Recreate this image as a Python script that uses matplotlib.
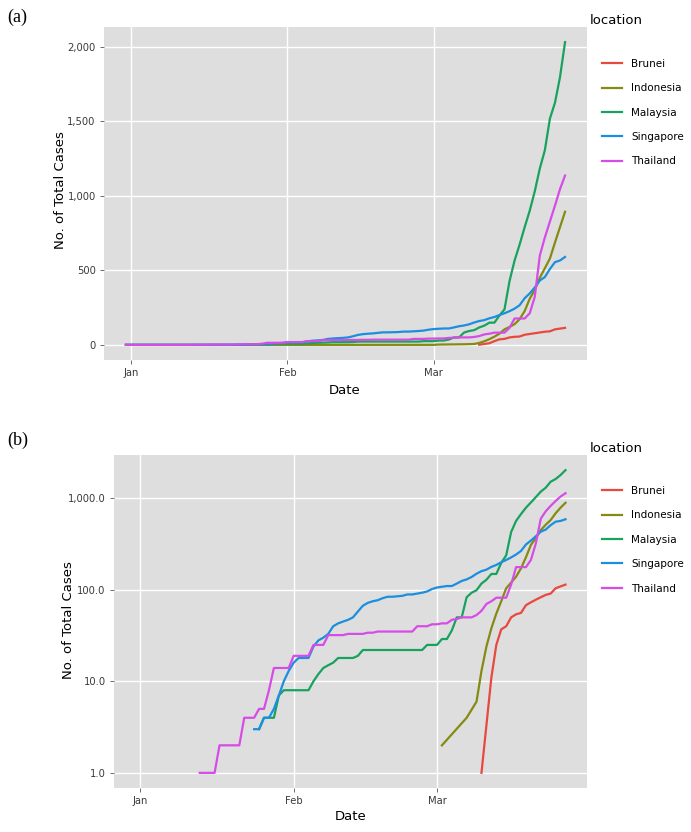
import matplotlib
matplotlib.use("Agg")
import matplotlib.pyplot as plt
import matplotlib.dates as mdates
from matplotlib.lines import Line2D
from matplotlib.ticker import FixedLocator, FuncFormatter, NullLocator
import numpy as np
import pandas as pd

# ---- data (daily cumulative cases) ----
first_day = "2019-12-31"
last_day = "2020-03-27"

countries = ["Brunei", "Indonesia", "Malaysia", "Singapore", "Thailand"]
colors = ["#E8483E", "#858A12", "#17A25E", "#1A8FE0", "#D64CE6"]

brunei_start = "2020-03-10"
brunei = [1, None, 11, 25, 37, 40, 50, 54, 56, 68, 73, 78, 83, 88, 91, 104, 109, 114]

indonesia = [0] * 62 + [2, None, None, None, None, 4, None, 6,
                        13, 24, 38, 55, 75, 104, 120, 139, 172, 227, 309,
                        369, 450, 514, 579, 686, 790, 893]

malaysia = [0] * 25 + [3, 4, 4, 4, 7, 8, 8, 8, 8, 8, 8, 10, 12, 14, 15, 16,
                       18, 18, 18, 18, 19] + [22] * 13 + [25, 25, 25, 29, 29, 36, 50, 50,
                       83, 93, 99, 117, 129, 149, 149, 197, 238, 428, 566, 673,
                       790, 900, 1030, 1183, 1306, 1518, 1624, 1796, 2031]

singapore = [0] * 24 + [3, 3, 4, 4, 5, 7, 10, 13, 16, 18, 18, 18,
                        24, 28, 30, 33, 40, 43, 45, 47, 50, 58,
                        67, 72, 75, 77, 81, 84, 84, 85, 86, 89,
                        89, 91, 93, 96, 102, 106, 108, 110, 110, 117,
                        125, 130, 138, 150, 160, 166, 178, 187, 200, 212,
                        226, 243, 266, 313, 345, 385, 432, 455, 509, 555,
                        566, 590]

thailand = [0] * 13 + [1, 1, 1, 1, 2, 2, 2, 2, 2, 4, 4, 4, 5, 5, 8,
                       14, 14, 14, 14, 19, 19, 19, 19, 25, 25, 25,
                       32, 32, 32, 32, 33, 33, 33, 33, 34, 34,
                       35, 35, 35, 35, 35, 35, 35, 35, 40, 40, 40, 42, 42, 43, 43,
                       47, 48, 50, 50, 50, 53, 59, 70, 75, 82, 82, 82, 114,
                       177, 177, 177, 212, 322, 599, 721, 827, 934, 1045, 1136]

month_ticks = ["2020-01-01", "2020-02-01", "2020-03-01"]
month_labels = ["Jan", "Feb", "Mar"]
lin_ticks = [0, 500, 1000, 1500, 2000]
log_ticks = [1, 10, 100, 1000]


def as_series(values, start=first_day):
    idx = pd.date_range(start, periods=len(values))
    return pd.Series([np.nan if v is None else v for v in values], index=idx, dtype=float)


data = {
    "Brunei": as_series(brunei, brunei_start),
    "Indonesia": as_series(indonesia),
    "Malaysia": as_series(malaysia),
    "Singapore": as_series(singapore),
    "Thailand": as_series(thailand),
}

BG = "#DEDEDE"
TXT = "#3a3a3a"
FONT = "DejaVu Sans"

fig = plt.figure(figsize=(6.91, 8.32), dpi=100)
W, H = 691, 832


def px_axes(left, top, right, bottom):
    return fig.add_axes([left / W, 1 - bottom / H, (right - left) / W, (bottom - top) / H])


ax_a = px_axes(104, 27, 587, 360)
ax_b = px_axes(114, 455, 587, 788)

x0 = mdates.date2num(pd.Timestamp(first_day))
x1 = mdates.date2num(pd.Timestamp(last_day))
xpad = 0.05 * (x1 - x0)

for ax, logy in [(ax_a, False), (ax_b, True)]:
    ax.set_facecolor(BG)
    for s in ax.spines.values():
        s.set_visible(False)
    for name, col in zip(countries, colors):
        s = data[name].dropna()
        if logy:
            s = s[s > 0]
        ax.plot(s.index, s.values, color=col, lw=1.6, solid_joinstyle="round")
    ax.set_xlim(x0 - xpad, x1 + xpad)
    ax.xaxis.set_major_locator(FixedLocator(mdates.date2num(pd.to_datetime(month_ticks))))
    ax.set_xticklabels(month_labels)
    if logy:
        ax.set_yscale("log")
        lo, hi = 0.0, np.log10(2031)
        pad = 0.05 * (hi - lo)
        ax.set_ylim(10 ** (lo - pad), 10 ** (hi + pad))
        ax.yaxis.set_major_locator(FixedLocator(log_ticks))
        ax.yaxis.set_minor_locator(NullLocator())
        ax.yaxis.set_major_formatter(FuncFormatter(lambda v, p: f"{v:,.1f}"))
    else:
        pad = 0.05 * 2031
        ax.set_ylim(-pad, 2031 + pad)
        ax.yaxis.set_major_locator(FixedLocator(lin_ticks))
        ax.yaxis.set_major_formatter(FuncFormatter(lambda v, p: f"{v:,.0f}"))
    ax.grid(True, which="major", color="white", lw=1.0)
    ax.set_axisbelow(True)
    ax.tick_params(length=3, width=0.6, color="#555555", labelsize=7.2, labelcolor=TXT, pad=3)
    for lab in ax.get_xticklabels() + ax.get_yticklabels():
        lab.set_fontfamily(FONT)

# axis titles
fig.text(60 / W, 1 - 190 / H, "No. of Total Cases", rotation=90, ha="center", va="center",
         fontsize=9.5, color="black", family=FONT)
fig.text(345 / W, 1 - 390 / H, "Date", ha="center", va="center", fontsize=9.5, color="black", family=FONT)
fig.text(69 / W, 1 - 620 / H, "No. of Total Cases", rotation=90, ha="center", va="center",
         fontsize=9.5, color="black", family=FONT)
fig.text(351 / W, 1 - 817 / H, "Date", ha="center", va="center", fontsize=9.5, color="black", family=FONT)

# panel tags
fig.text(7 / W, 1 - 17 / H, "(a)", ha="left", va="center", fontsize=13, family="Liberation Serif")
fig.text(7 / W, 1 - 440 / H, "(b)", ha="left", va="center", fontsize=13, family="Liberation Serif")

# legends
handles = [Line2D([0], [0], color=c, lw=1.6) for c in colors]
for title_y, first_y in [(20, 63), (448, 490)]:
    fig.text(590 / W, 1 - title_y / H, "location", ha="left", va="center", fontsize=9.5,
             color="black", family=FONT)
    fig.legend(handles, countries, loc="upper left",
               bbox_to_anchor=(602 / W, 1 - (first_y - 4) / H),
               frameon=False, handlelength=1.9, handletextpad=0.9,
               labelspacing=1.38, borderpad=0, borderaxespad=0,
               prop={"family": FONT, "size": 7.5})

fig.savefig("out.png", dpi=100)
